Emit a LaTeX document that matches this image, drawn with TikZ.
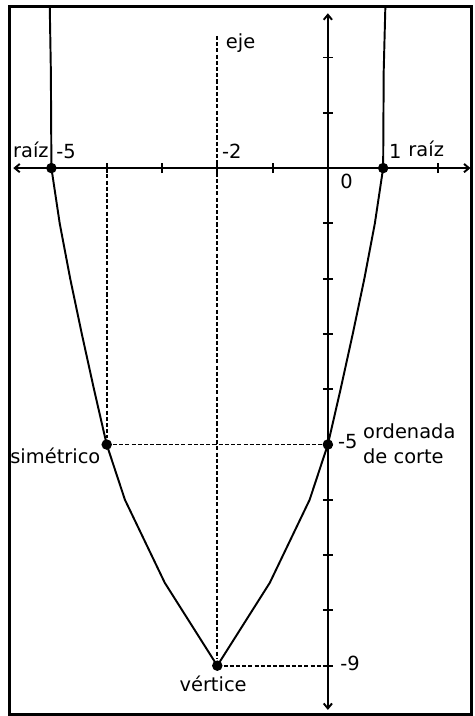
\documentclass[tikz,border=0pt]{standalone}
\usepackage{fontspec}
\setmainfont{DejaVu Sans}
\usetikzlibrary{arrows.meta}
\tikzset{
  every picture/.style={line width=1pt},
  axis/.style={{Straight Barb[length=0.9mm, width=1.5mm]}-{Straight Barb[length=0.9mm, width=1.5mm]}, line width=1pt},
  guide/.style={dash pattern=on 2.1pt off 1.1pt, line width=0.9pt},
  curve/.style={line width=1pt, line join=round},
  dot/.style={circle, fill=black, inner sep=0pt, minimum size=1.9mm},
  lbl/.style={font=\fontsize{10}{12.8}\selectfont, inner sep=0pt, anchor=base west},
}

\begin{document}
\begin{tikzpicture}
  \useasboundingbox (-5.93,-9.91) rectangle (2.66,3.04);
  % frame
  \draw[line width=1.5pt] (-5.76,-9.88) rectangle (2.59,2.92);
  % axes and ticks
  \draw[axis] (-5.69,0) -- (2.58,0);
  \draw[axis] (0,-9.8) -- (0,2.8);
  \foreach \x in {-5,...,2} \draw (\x,-0.09) -- (\x,0.09);
  \foreach \y in {-9,...,-1,1,2} \draw (-0.09,\y) -- (0.09,\y);
  % the curve, as the plotter drew it
  \draw[curve] (-5.03,2.92) -- (-5.01,1.75) -- (-5,0) -- (-4.85,-1) -- (-4.66,-2)
    -- (-4.45,-3) -- (-4.23,-4) -- (-4,-5) -- (-3.67,-6.0) -- (-2.95,-7.5) -- (-2,-9)
    -- (-1.05,-7.5) -- (-0.33,-6.0) -- (0,-5) -- (0.23,-4) -- (0.45,-3) -- (0.66,-2)
    -- (0.85,-1) -- (1,0) -- (1.01,1.75) -- (1.04,2.92);
  % points
  \coordinate (ejetop) at (-2,2.39);
  \coordinate (foot) at (-4,0);
  \node[dot] (rootL) at (-5,0) {};
  \node[dot] (rootR) at (1,0) {};
  \node[dot] (sym) at (-4,-5) {};
  \node[dot] (cut) at (0,-5) {};
  \node[dot] (vert) at (-2,-9) {};
  % guides
  \draw[guide] (ejetop) -- (vert);
  \draw[guide] (foot) -- (sym);
  \draw[guide] (sym) -- (cut);
  \draw[guide] (vert) -- (vert -| cut);
  % labels
  \node[lbl] (eje) at (-1.86,2.17) {eje};
  \node[lbl] (raizL) at (-5.71,0.19) {raíz};
  \node[lbl] (m5) at (-4.93,0.17) {-5};
  \node[lbl] (m2) at (-1.93,0.17) {-2};
  \node[lbl] (zero) at (0.21,-0.37) {0};
  \node[lbl] (one) at (1.09,0.17) {1};
  \node[lbl] (raizR) at (1.44,0.21) {raíz};
  \node[lbl] (simet) at (-5.76,-5.34) {simétrico};
  \node[lbl] (m5b) at (0.17,-5.07) {-5};
  \node[lbl, align=left] (ordn) at (0.62,-5.34) {ordenada\\de corte};
  \node[lbl] (m9) at (0.21,-9.08) {-9};
  \node[lbl] (vlbl) at (-2.70,-9.47) {vértice};
\end{tikzpicture}
\end{document}
